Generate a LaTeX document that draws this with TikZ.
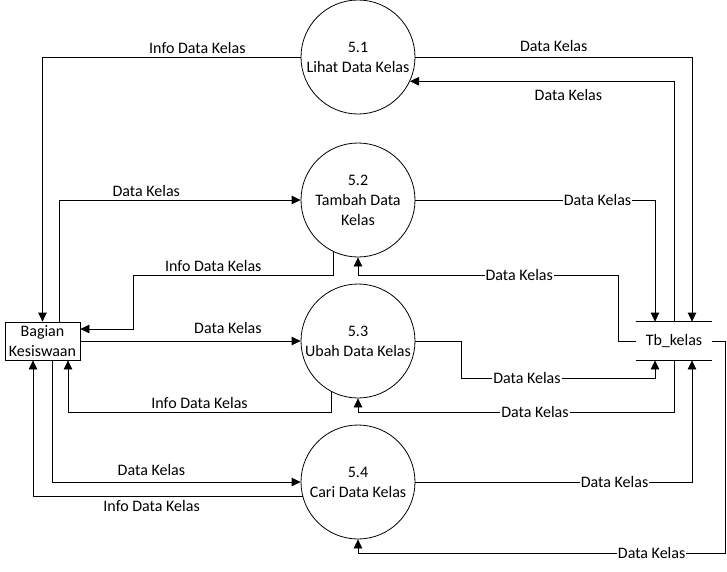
\documentclass[tikz,border=0pt]{standalone}
\usepackage{fontspec}
\setmainfont{Carlito}
\usetikzlibrary{arrows.meta}

\begin{document}
\begin{tikzpicture}[x=1pt,y=-1pt,>={Triangle[length=9pt,width=8.5pt]},
    font=\fontsize{16}{20}\selectfont,line width=0.8pt,
    proc/.style={circle,draw,minimum size=114pt,inner sep=0pt,align=center},
    ent/.style={rectangle,draw,minimum width=75pt,minimum height=38pt,inner sep=1pt,align=center},
    lblw/.style={fill=white,inner sep=1pt}]
  \useasboundingbox (0,0) rectangle (727,571);
  % processes
  \node[proc] (p1) at (358,57) {5.1\\Lihat Data Kelas};
  \node[proc] (p2) at (358,200) {5.2\\Tambah Data\\Kelas};
  \node[proc] (p3) at (358,341) {5.3\\Ubah Data Kelas};
  \node[proc] (p4) at (358,482) {5.4\\Cari Data Kelas};
  % entity and store
  \node[ent] (bk) at (42.5,341) {Bagian\\Kesiswaan};
  \node[minimum width=76pt,minimum height=38pt] (tb) at (674,341) {Tb\_kelas};
  \draw (tb.north west) -- (tb.north east);
  \draw (tb.south west) -- (tb.south east);
  % flows with Bagian Kesiswaan
  \draw[->] (p1.west) -| node[pos=0.2,above]{Info Data Kelas} (bk.north);
  \draw[->] ([xshift=17pt]bk.north) |- node[pos=0.68,above]{Data Kelas} (p2.west);
  \draw[->] (p2.245) |- node[pos=0.8,above]{Info Data Kelas} (133,275) |- (bk.east |- 0,329);
  \draw[->] (bk.east) -- node[pos=0.67,above=4pt]{Data Kelas} (p3.west);
  \draw[->] (p3.242) |- node[pos=0.75,above]{Info Data Kelas} (68,412) -- (bk.south -| 68,0);
  \draw[->] ([xshift=9.5pt]bk.south) |- node[pos=0.7,above=3pt]{Data Kelas} (p4.west);
  \draw[->] (p4.195) -| node[pos=0.28,below]{Info Data Kelas} ([xshift=-9.5pt]bk.south);
  % flows with Tb_kelas
  \draw[->] (p1.east) -| node[pos=0.25,above=2pt]{Data Kelas} ([xshift=18pt]tb.north);
  \draw[->] (tb.north) |- node[pos=0.7,below=4pt]{Data Kelas} (p1.335);
  \draw[->] (p2.east) -| node[pos=0.38,lblw]{Data Kelas} ([xshift=-19pt]tb.north);
  \draw[->] (tb.west) -| (618,275) -| node[pos=0.19,lblw]{Data Kelas} (p2.south);
  \draw[->] (p3.east) -| (461,378) -| node[pos=0.17,lblw]{Data Kelas} ([xshift=-19pt]tb.south);
  \draw[->] (tb.south) |- node[pos=0.72,lblw]{Data Kelas} (358,412) -- (p3.south);
  \draw[->] (p4.east) -| node[pos=0.36,lblw]{Data Kelas} ([xshift=18pt]tb.south);
  \draw[->] (tb.east) -| (725,553) -| node[pos=0.1,lblw]{Data Kelas} (p4.south);
\end{tikzpicture}
\end{document}
